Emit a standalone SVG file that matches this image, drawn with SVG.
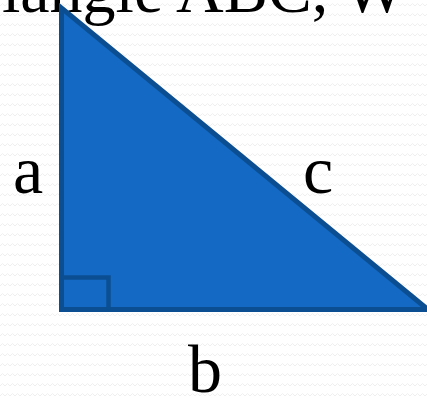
<svg xmlns="http://www.w3.org/2000/svg" width="427" height="398" viewBox="0 0 427 398">
  <defs>
    <pattern id="bg" width="10" height="10" patternUnits="userSpaceOnUse">
      <rect width="10" height="10" fill="#ffffff"/>
      <path d="M0 6 L2.5 3.5 L5 6 L7.5 3.5 L10 6" fill="none" stroke="#efefef" stroke-width="1"/>
    </pattern>
    <style>
      .lbl { font-family: "Liberation Serif", "DejaVu Serif", serif; fill: #000000; }
      .shape { fill: #1469C4; stroke: #0B4F92; stroke-width: 5; stroke-linejoin: miter; }
      .mark { fill: none; stroke: #0B4F92; stroke-width: 4.5; }
    </style>
  </defs>
  <rect width="427" height="398" fill="url(#bg)"/>
  <g id="title">
    <text class="lbl" x="-20" y="12" font-size="66">riangle ABC, W</text>
  </g>
  <g id="triangle">
    <polygon class="shape" points="61.5,8 61.5,309.5 428,309.5"/>
    <polyline class="mark" points="61.5,277.5 108.5,277.5 108.5,309.5"/>
  </g>
  <g id="labels">
    <text class="lbl" x="28" y="193" font-size="68" text-anchor="middle">a</text>
    <text class="lbl" x="318" y="193" font-size="68" text-anchor="middle">c</text>
    <text class="lbl" x="205" y="392" font-size="68" text-anchor="middle">b</text>
  </g>
</svg>
